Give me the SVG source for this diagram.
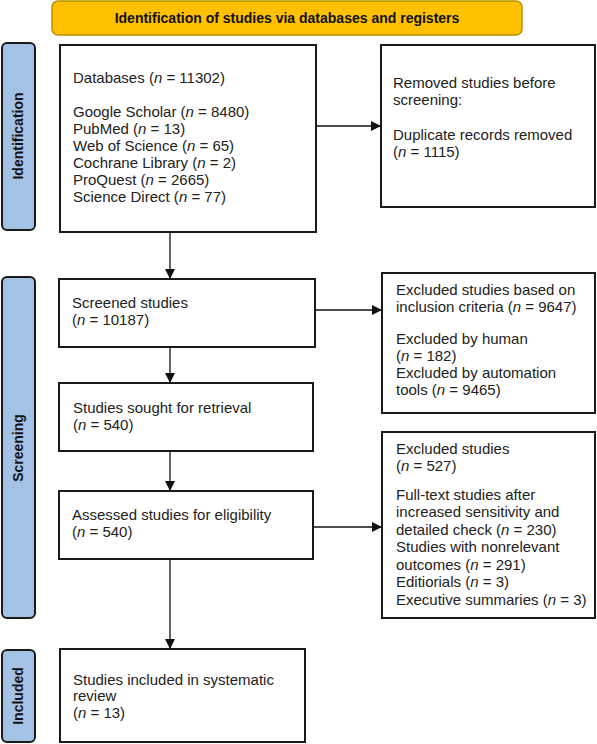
<svg xmlns="http://www.w3.org/2000/svg" width="597" height="744" viewBox="0 0 597 744">
<defs>
<style>
.box{fill:#fff;stroke:#1a1a1a;stroke-width:2}
.phase{fill:#a4c2e6;stroke:#1a1a1a;stroke-width:2}
.t{font-family:"Liberation Sans",Arial,sans-serif;font-size:15px;fill:#222}
.pl{font-family:"Liberation Sans",Arial,sans-serif;font-size:14px;font-weight:bold;fill:#111}
.c{stroke:#111;stroke-width:1.3;fill:none;marker-end:url(#ah)}
</style>
<marker id="ah" markerWidth="10" markerHeight="10" refX="9" refY="5" orient="auto" markerUnits="userSpaceOnUse">
<path d="M0,0 L10,5 L0,10 Z" fill="#111"/>
</marker>
</defs>
<rect width="597" height="744" fill="#fff"/>
<g id="header">
<rect x="52" y="1" width="470" height="34" rx="6" fill="#ffc000" stroke="#b89000" stroke-width="1.5"/>
<text class="pl" x="287" y="23" text-anchor="middle">Identification of studies via databases and registers</text>
</g>
<g id="phase-identification">
<rect class="phase" x="2" y="43" width="33" height="187" rx="5"/>
<text class="pl" transform="translate(23,136) rotate(-90)" text-anchor="middle">Identification</text>
</g>
<g id="phase-screening">
<rect class="phase" x="2" y="277" width="33" height="341" rx="5"/>
<text class="pl" transform="translate(23,448) rotate(-90)" text-anchor="middle">Screening</text>
</g>
<g id="phase-included">
<rect class="phase" x="2" y="650" width="33" height="92" rx="5"/>
<text class="pl" transform="translate(23,696) rotate(-90)" text-anchor="middle">Included</text>
</g>
<g id="databases">
<rect class="box" x="60" y="45" width="256" height="187"/>
<text class="t" x="73" y="83">Databases (<tspan font-style="italic">n</tspan> = 11302)</text>
<text class="t" x="73" y="117">Google Scholar (<tspan font-style="italic">n</tspan> = 8480)</text>
<text class="t" x="73" y="134">PubMed (<tspan font-style="italic">n</tspan> = 13)</text>
<text class="t" x="73" y="151">Web of Science (<tspan font-style="italic">n</tspan> = 65)</text>
<text class="t" x="73" y="168">Cochrane Library (<tspan font-style="italic">n</tspan> = 2)</text>
<text class="t" x="73" y="185">ProQuest (<tspan font-style="italic">n</tspan> = 2665)</text>
<text class="t" x="73" y="202">Science Direct (<tspan font-style="italic">n</tspan> = 77)</text>
</g>
<g id="removed">
<rect class="box" x="381" y="45" width="214" height="162"/>
<text class="t" x="393" y="88">Removed studies  before</text>
<text class="t" x="393" y="105">screening:</text>
<text class="t" x="393" y="140">Duplicate records removed</text>
<text class="t" x="393" y="157">(<tspan font-style="italic">n</tspan> = 1115)</text>
</g>
<g id="screened">
<rect class="box" x="59" y="279" width="256" height="68"/>
<text class="t" x="72" y="308">Screened studies</text>
<text class="t" x="72" y="325">(<tspan font-style="italic">n</tspan> = 10187)</text>
</g>
<g id="excluded1">
<rect class="box" x="382" y="273" width="213" height="140"/>
<text class="t" x="396" y="295">Excluded studies based on</text>
<text class="t" x="396" y="312">inclusion criteria (<tspan font-style="italic">n</tspan> = 9647)</text>
<text class="t" x="396" y="344">Excluded by human</text>
<text class="t" x="396" y="361">(<tspan font-style="italic">n</tspan> = 182)</text>
<text class="t" x="396" y="378">Excluded by automation</text>
<text class="t" x="396" y="395">tools (<tspan font-style="italic">n</tspan> = 9465)</text>
</g>
<g id="sought">
<rect class="box" x="59" y="383" width="254" height="68"/>
<text class="t" x="73" y="413">Studies sought for retrieval</text>
<text class="t" x="73" y="430">(<tspan font-style="italic">n</tspan> = 540)</text>
</g>
<g id="assessed">
<rect class="box" x="59" y="491" width="254" height="68"/>
<text class="t" x="72" y="520">Assessed studies for eligibility</text>
<text class="t" x="72" y="537">(<tspan font-style="italic">n</tspan> = 540)</text>
</g>
<g id="excluded2">
<rect class="box" x="382" y="432" width="213" height="186"/>
<text class="t" x="396" y="454">Excluded studies</text>
<text class="t" x="396" y="471">(<tspan font-style="italic">n</tspan> = 527)</text>
<text class="t" x="396" y="500">Full-text studies after</text>
<text class="t" x="396" y="517">increased sensitivity and</text>
<text class="t" x="396" y="535">detailed check  (<tspan font-style="italic">n</tspan> = 230)</text>
<text class="t" x="396" y="552">Studies with nonrelevant</text>
<text class="t" x="396" y="570">outcomes  (<tspan font-style="italic">n</tspan> = 291)</text>
<text class="t" x="396" y="587">Editiorials (<tspan font-style="italic">n</tspan> = 3)</text>
<text class="t" x="396" y="605">Executive summaries (<tspan font-style="italic">n</tspan> = 3)</text>
</g>
<g id="included">
<rect class="box" x="60" y="649" width="245" height="93"/>
<text class="t" x="73" y="685">Studies included in systematic</text>
<text class="t" x="73" y="701">review</text>
<text class="t" x="73" y="718">(<tspan font-style="italic">n</tspan> = 13)</text>
</g>
<g id="connectors">
<line class="c" x1="316" y1="126" x2="380" y2="126"/>
<line class="c" x1="170" y1="232" x2="170" y2="278"/>
<line class="c" x1="315" y1="310" x2="381" y2="310"/>
<line class="c" x1="170" y1="347" x2="170" y2="382"/>
<line class="c" x1="170" y1="451" x2="170" y2="490"/>
<line class="c" x1="313" y1="527" x2="381" y2="527"/>
<line class="c" x1="170" y1="559" x2="170" y2="648"/>
</g>
</svg>
